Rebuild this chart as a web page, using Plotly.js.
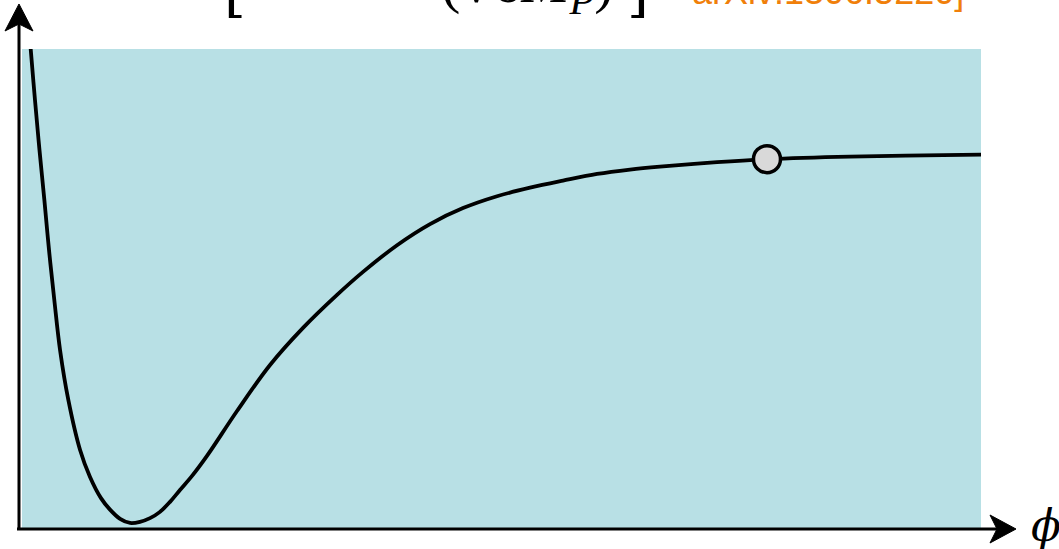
<!DOCTYPE html>
<html>
<head>
<meta charset="utf-8">
<script src="https://cdn.plot.ly/plotly-3.0.1.min.js"></script>
<style>
  html, body { margin: 0; padding: 0; background: #ffffff; }
  #chart { width: 1059px; height: 549px; }
</style>
</head>
<body>
<div id="chart"></div>
<script>
// Field values φ (in units of M_P)
const phi = [-0.893, -0.879, -0.841, -0.801, -0.758, -0.717, -0.670, -0.619, -0.546, -0.442,
             -0.354, -0.257, -0.177, -0.088, 0.000, 0.088, 0.177, 0.265, 0.354, 0.442,
             0.549, 0.681, 0.947, 1.239, 1.531, 1.832, 2.062, 2.363, 2.655, 2.947,
             3.248, 3.540, 3.832, 4.133, 4.425, 4.690, 5.195, 5.637, 6.372, 7.531, 7.655];
// Potential V(φ) (in units of Λ⁴)
const potential = [1.329, 1.278, 1.140, 1.005, 0.871, 0.736, 0.601, 0.466, 0.332, 0.197,
                   0.124, 0.067, 0.036, 0.011, 0.000, 0.003, 0.013, 0.030, 0.057, 0.089,
                   0.127, 0.181, 0.302, 0.426, 0.526, 0.615, 0.677, 0.749, 0.806, 0.849,
                   0.881, 0.904, 0.923, 0.941, 0.953, 0.961, 0.973, 0.981, 0.988, 0.993, 0.994];
// Marked point on the plateau
const markerPhi = [5.637];
const markerV = [0.981];

const W = 1059, H = 549;
const M = {l: 22, r: 78, t: 49, b: 21};
const pw = W - M.l - M.r, ph = H - M.t - M.b;
const px = x => (x - M.l) / pw;          // page pixel x -> paper
const py = y => (H - M.b - y) / ph;      // page pixel y -> paper

function path(pts) {
  return 'M ' + pts.map(p => px(p[0]).toFixed(5) + ',' + py(p[1]).toFixed(5)).join(' L ') + ' Z';
}

const traces = [
  {
    x: phi, y: potential, type: 'scatter', mode: 'lines',
    line: {color: '#000000', width: 3.8, shape: 'spline', smoothing: 1},
    hoverinfo: 'skip', showlegend: false
  },
  {
    x: markerPhi, y: markerV, type: 'scatter', mode: 'markers',
    marker: {size: 27, color: '#d9d9d9', line: {color: '#000000', width: 3.5}},
    hoverinfo: 'skip', showlegend: false
  }
];

const layout = {
  width: W, height: H,
  margin: M,
  paper_bgcolor: '#ffffff',
  plot_bgcolor: '#b8e0e5',
  showlegend: false,
  xaxis: {range: [-0.956, 7.531], showgrid: false, zeroline: false, showline: false,
          showticklabels: false, ticks: ''},
  yaxis: {range: [-0.0135, 1.278], showgrid: false, zeroline: false, showline: false,
          showticklabels: false, ticks: ''},
  shapes: [
    {type: 'line', xref: 'paper', yref: 'paper', x0: px(19), x1: px(19), y0: py(530), y1: py(24),
     line: {color: '#000000', width: 3}},
    {type: 'path', xref: 'paper', yref: 'paper', path: path([[19, 4], [33, 31], [19, 24], [5, 31]]),
     fillcolor: '#000000', line: {color: '#000000', width: 1}},
    {type: 'line', xref: 'paper', yref: 'paper', x0: px(17), x1: px(997), y0: py(529), y1: py(529),
     line: {color: '#000000', width: 3}},
    {type: 'path', xref: 'paper', yref: 'paper', path: path([[1016, 529], [990, 515], [997, 529], [990, 543]]),
     fillcolor: '#000000', line: {color: '#000000', width: 1}}
  ],
  annotations: [
    {xref: 'paper', yref: 'paper', x: px(1046), y: py(525), xanchor: 'center', yanchor: 'middle',
     text: '<i>ϕ</i>', showarrow: false,
     font: {family: 'DejaVu Serif', size: 44, color: '#000000', weight: 300}},
    {xref: 'paper', yref: 'paper', x: px(235), y: py(26), xanchor: 'center', yanchor: 'bottom',
     text: '[', showarrow: false,
     font: {family: 'DejaVu Serif', size: 56, color: '#000000', weight: 300}},
    {xref: 'paper', yref: 'paper', x: px(638), y: py(26), xanchor: 'center', yanchor: 'bottom',
     text: ']', showarrow: false,
     font: {family: 'DejaVu Serif', size: 56, color: '#000000', weight: 300}},
    {xref: 'paper', yref: 'paper', x: px(527), y: py(25), xanchor: 'center', yanchor: 'bottom',
     text: '(√6<i>M</i><sub><i>P</i></sub>)', showarrow: false,
     font: {family: 'Liberation Serif', size: 58, color: '#000000'}},
    {xref: 'paper', yref: 'paper', x: px(690), y: py(14), xanchor: 'left', yanchor: 'bottom',
     text: 'arXiv:1306.5220]', showarrow: false,
     font: {family: 'Liberation Sans', size: 36, color: '#f07f0a'}}
  ]
};

Plotly.newPlot('chart', traces, layout, {displayModeBar: false, staticPlot: true});
</script>
</body>
</html>
